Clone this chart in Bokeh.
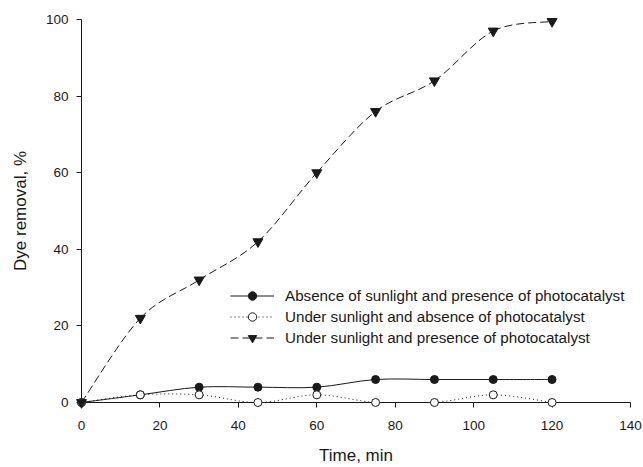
from bokeh.plotting import figure
from bokeh.models import Range1d, ColumnDataSource, Legend, LegendItem, FixedTicker
from bokeh.embed import file_html
from bokeh.resources import INLINE

# ---- data ----
time_min = [0, 15, 30, 45, 60, 75, 90, 105, 120]
dark_cat = [0, 2, 4, 4, 4, 6, 6, 6, 6]            # Absence of sunlight and presence of photocatalyst
sun_nocat = [0, 2, 2, 0, 2, 0, 0, 2, 0]           # Under sunlight and absence of photocatalyst
sun_cat = [0, 22, 32, 42, 60, 76, 84, 97, 99.5]   # Under sunlight and presence of photocatalyst
labels = ["Absence of sunlight and presence of photocatalyst",
          "Under sunlight and absence of photocatalyst",
          "Under sunlight and presence of photocatalyst"]
x_ticks = [0, 20, 40, 60, 80, 100, 120, 140]
y_ticks = [0, 20, 40, 60, 80, 100]

FONT = "Liberation Sans"
INK = "#1a1a1a"


def smooth_segments(xs, ys):
    """Catmull-Rom style cubic Bezier control points between the data points."""
    n = len(xs)
    d = dict(x0=[], y0=[], x1=[], y1=[], cx0=[], cy0=[], cx1=[], cy1=[])
    for i in range(n - 1):
        xm, ym = (xs[i - 1], ys[i - 1]) if i > 0 else (xs[i], ys[i])
        xp, yp = (xs[i + 2], ys[i + 2]) if i + 2 < n else (xs[i + 1], ys[i + 1])
        d["x0"].append(xs[i]); d["y0"].append(ys[i])
        d["x1"].append(xs[i + 1]); d["y1"].append(ys[i + 1])
        d["cx0"].append(xs[i] + (xs[i + 1] - xm) / 6)
        d["cy0"].append(ys[i] + (ys[i + 1] - ym) / 6)
        d["cx1"].append(xs[i + 1] - (xp - xs[i]) / 6)
        d["cy1"].append(ys[i + 1] - (yp - ys[i]) / 6)
    return ColumnDataSource(d)


p = figure(width=643, height=467, output_backend="svg", toolbar_location=None,
           x_range=Range1d(0, 140), y_range=Range1d(0, 100),
           min_border_left=81, min_border_right=13, min_border_top=19, min_border_bottom=65)
p.outline_line_color = None
p.grid.grid_line_color = None
p.background_fill_color = "white"

styles = [
    dict(ys=dark_cat, dash="solid", marker="circle", fill=INK, size=8),
    dict(ys=sun_nocat, dash="1 3", marker="circle", fill="white", size=8),
    dict(ys=sun_cat, dash="8 4", marker="inverted_triangle", fill=INK, size=10),
]

items = []
for st, lab in zip(styles, labels):
    br = p.bezier(x0="x0", y0="y0", x1="x1", y1="y1", cx0="cx0", cy0="cy0", cx1="cx1", cy1="cy1",
                  source=smooth_segments(time_min, st["ys"]), line_color=INK, line_width=1,
                  line_dash=st["dash"])
    st["br"] = br
for st, lab in zip(styles, labels):
    sr = p.scatter(time_min, st["ys"], marker=st["marker"], size=st["size"],
                   fill_color=st["fill"], line_color=INK, line_width=1, level="overlay")
    items.append(LegendItem(label=lab, renderers=[st["br"], sr], index=0))

legend = Legend(items=items, location=(149, 54), border_line_alpha=0,
                background_fill_alpha=0, padding=0, margin=0, spacing=0,
                glyph_width=44, glyph_height=21, label_height=21, label_standoff=11,
                label_text_font=FONT, label_text_font_size="15.2px", label_text_color=INK)
p.add_layout(legend, "center")

for ax in (p.xaxis[0], p.yaxis[0]):
    ax.axis_line_color = INK
    ax.major_tick_line_color = INK
    ax.minor_tick_line_color = None
    ax.major_tick_out = 5
    ax.major_tick_in = 0
    ax.major_label_text_font = FONT
    ax.major_label_text_font_size = "13.5px"
    ax.major_label_text_color = INK
    ax.axis_label_text_font = FONT
    ax.axis_label_text_font_size = "17px"
    ax.axis_label_text_font_style = "normal"
    ax.axis_label_text_color = INK

p.xaxis[0].major_label_standoff = 13
p.xaxis[0].axis_label_standoff = 13
p.yaxis[0].major_label_standoff = 8
p.yaxis[0].axis_label_standoff = 13
p.xaxis[0].ticker = FixedTicker(ticks=x_ticks)
p.yaxis[0].ticker = FixedTicker(ticks=y_ticks)
p.xaxis[0].axis_label = "Time, min"
p.yaxis[0].axis_label = "Dye removal, %"

open("out.html", "w").write(file_html(p, INLINE))
